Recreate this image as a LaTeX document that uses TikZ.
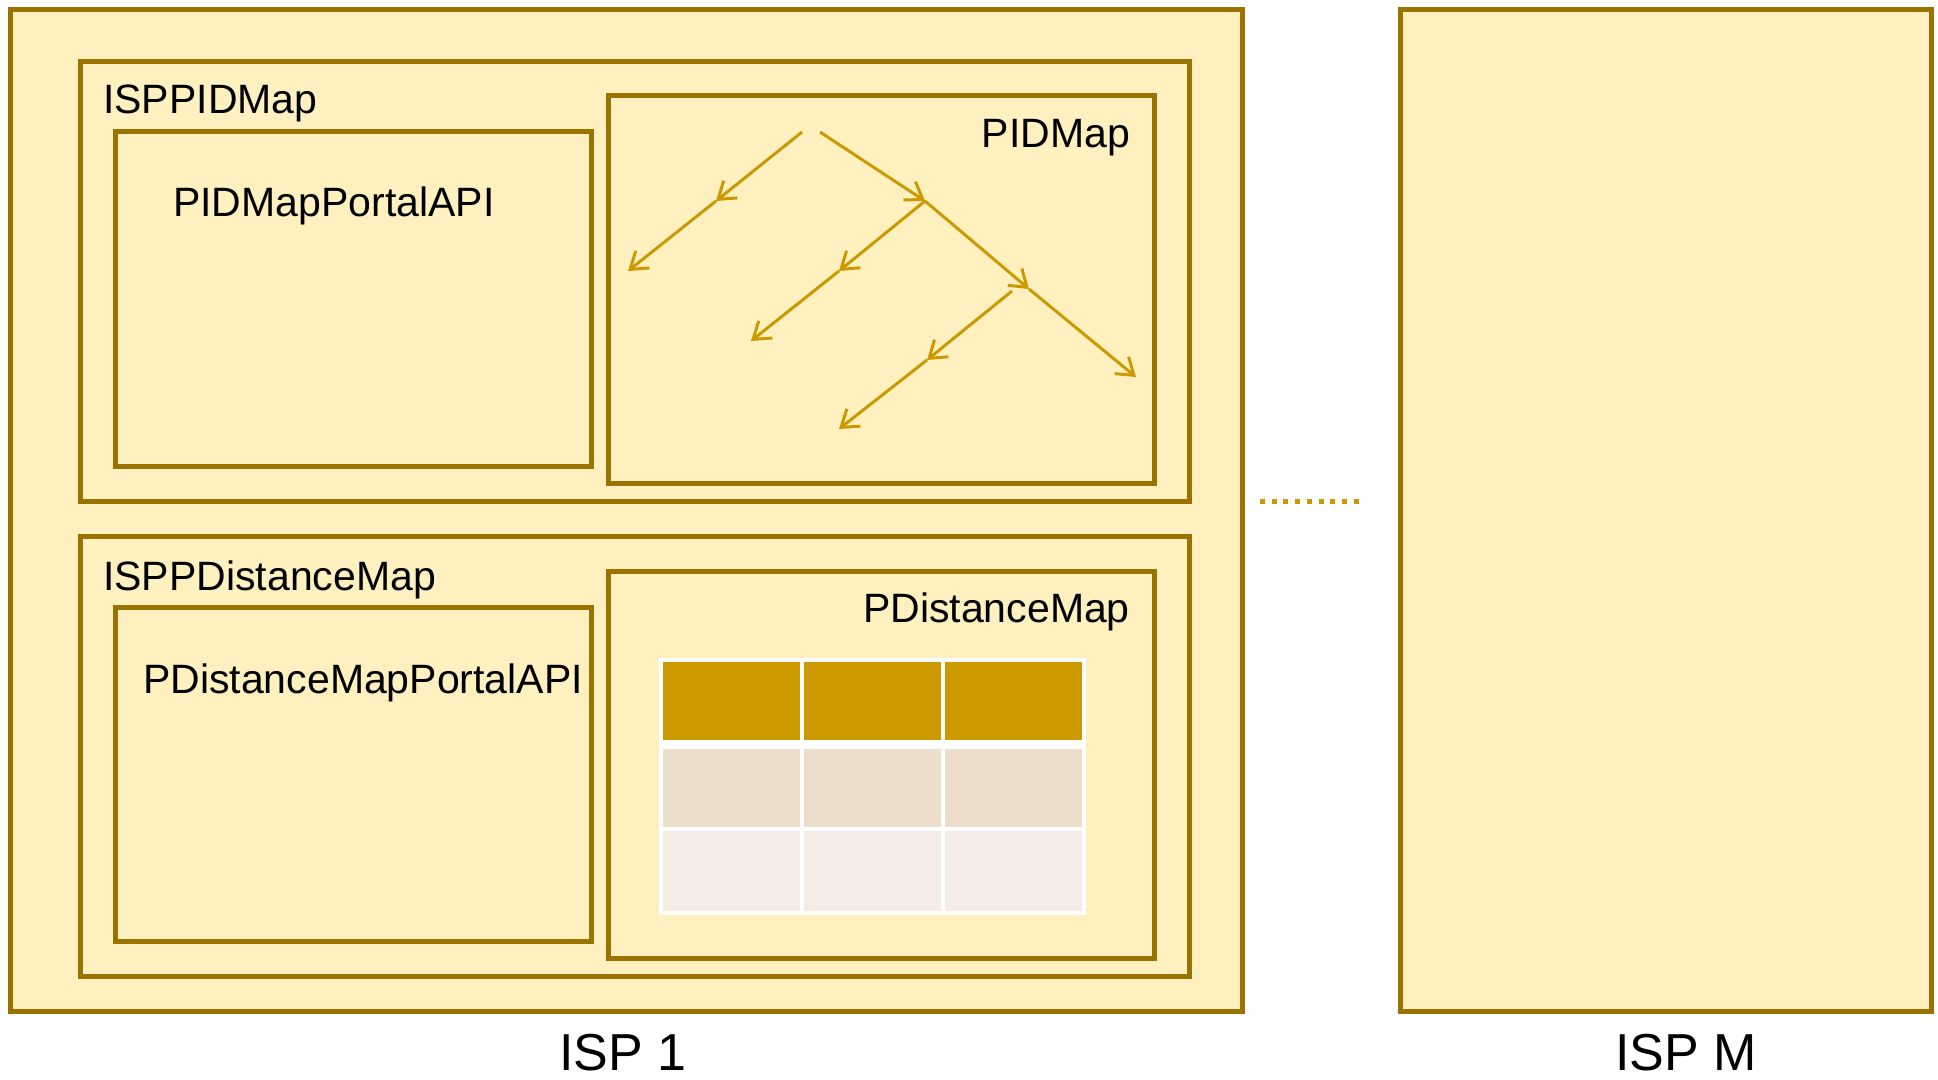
\documentclass[tikz,border=0pt]{standalone}
\usepackage{fontspec}
\setmainfont{Liberation Sans}
\usetikzlibrary{arrows.meta}
\definecolor{panelfill}{HTML}{FFF0C0}
\definecolor{panelline}{HTML}{9A7200}
\definecolor{gold}{HTML}{CC9900}
\definecolor{rowmid}{HTML}{ECDECB}
\definecolor{rowlow}{HTML}{F5EDE5}
\tikzset{
  panel/.style={draw=panelline, fill=panelfill, line width=5pt, inner sep=0pt},
  lbl/.style={inner sep=0pt, font=\fontsize{41}{49}\selectfont},
  isplbl/.style={inner sep=0pt, font=\fontsize{52}{60}\selectfont},
  treearrow/.style={draw=gold, line width=3pt, -{Straight Barb[length=16pt,width=22pt,line width=3pt]}},
}
\begin{document}
\begin{tikzpicture}[x=1pt,y=-1pt]
\useasboundingbox[fill=white] (0,0) rectangle (1938,1079);

% outer ISP boxes
\draw[panel] (10,9) rectangle (1242,1011);
\draw[panel] (1400,9) rectangle (1931,1011);

% PID map group
\draw[panel] (80,61) rectangle (1189,501);
\draw[panel] (115,131) rectangle (591,466);
\draw[panel] (608,95) rectangle (1154,483);

% distance map group
\draw[panel] (80,536) rectangle (1189,976);
\draw[panel] (115,607) rectangle (591,941);
\draw[panel] (608,571) rectangle (1154,958);

% labels
\node[lbl, anchor=base west] (lispp) at (103,113) {ISPPIDMap};
\node[lbl, anchor=base west] (lportal) at (173,216) {PIDMapPortalAPI};
\node[lbl, anchor=base east] (lpid) at (1130,147) {PIDMap};
\node[lbl, anchor=base west] (lisppd) at (103,590) {ISPPDistanceMap};
\node[lbl, anchor=base west] (ldportal) at (143,693) {PDistanceMapPortalAPI};
\node[lbl, anchor=base east] (ldist) at (1130,622) {PDistanceMap};
\node[isplbl, anchor=base west] (lisp1) at (559,1070) {ISP 1};
\node[isplbl, anchor=base west] (lispm) at (1615,1070) {ISP M};

% tree of PIDs
\coordinate (r1) at (802,132);
\coordinate (r2) at (820,132);
\coordinate (a1) at (716,201);
\coordinate (a2) at (628,271);
\coordinate (b1) at (925,201);
\coordinate (b2) at (839,271);
\coordinate (b3) at (751,341);
\coordinate (c1) at (1029,289);
\coordinate (c0) at (1012,291);
\coordinate (c2) at (927,360);
\coordinate (c3) at (839,429);
\coordinate (d1) at (1136,377);
\draw[treearrow] (r1) -- (a1);
\draw[treearrow] (a1) -- (a2);
\draw[treearrow] (r2) -- (b1);
\draw[treearrow] (b1) -- (b2);
\draw[treearrow] (b2) -- (b3);
\draw[treearrow] (b1) -- (c1);
\draw[treearrow] (c0) -- (c2);
\draw[treearrow] (c2) -- (c3);
\draw[treearrow] (c1) -- (d1);

% distance table
\fill[white] (659,658) rectangle (1086,915);
\foreach \xa/\xb in {663/800, 804/941, 945/1082}{
  \fill[gold] (\xa,662) rectangle (\xb,740);
  \fill[rowmid] (\xa,749) rectangle (\xb,827);
  \fill[rowlow] (\xa,831) rectangle (\xb,911);
}

% ellipsis between ISPs
\coordinate (dotA) at (1260,501);
\coordinate (dotB) at (1360,501);
\draw[gold, line width=5pt, dash pattern=on 5pt off 6.7pt] (dotA) -- (dotB);
\end{tikzpicture}
\end{document}
